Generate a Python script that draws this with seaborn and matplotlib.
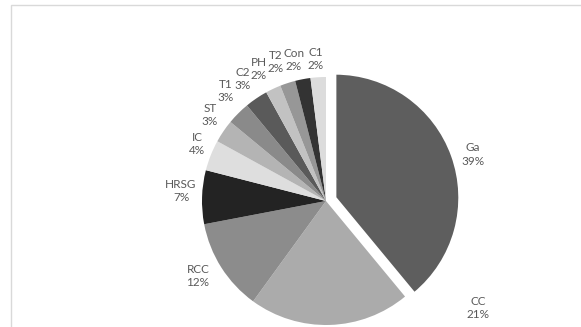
import matplotlib
matplotlib.use("Agg")
import matplotlib.pyplot as plt
import seaborn as sns
from matplotlib.patches import Rectangle

# Share of each component (percent)
components = ["Ga", "CC", "RCC", "HRSG", "IC", "ST", "T1", "C2", "PH", "T2", "Con", "C1"]
shares = [39, 21, 12, 7, 4, 3, 3, 3, 2, 2, 2, 2]

# Grey fill for each wedge
wedge_colors = ["#5e5e5e", "#ababab", "#8c8c8c", "#232323", "#dedede", "#b4b4b4",
                "#8a8a8a", "#5a5a5a", "#c2c2c2", "#979797", "#333333", "#dcdcdc"]

# Label anchor points in pie-radius units (pie centred at origin)
label_x = [1.185, 1.226, -1.032, -1.169, -1.040, -0.935, -0.806, -0.669, -0.540, -0.403, -0.258, -0.081]
label_y = [0.375, -0.863, -0.605, 0.081, 0.460, 0.694, 0.887, 0.984, 1.065, 1.121, 1.137, 1.145]

sns.set_theme(style="white")
plt.rcParams["font.family"] = ["Lato", "DejaVu Sans"]

W, H = 581, 327
fig = plt.figure(figsize=(W / 100, H / 100), dpi=100)
ax = fig.add_axes([0, 0, 1, 1])

explode = [0.08] + [0] * (len(shares) - 1)
wedges, _ = ax.pie(shares, colors=wedge_colors, startangle=90, counterclock=False,
                   explode=explode, radius=1.0,
                   wedgeprops=dict(linewidth=0))
wedges[0].set_edgecolor("white")
wedges[0].set_linewidth(1.5)

for name, val, x, y in zip(components, shares, label_x, label_y):
    ax.text(x, y, f"{name}\n{val}%", ha="center", va="center", fontsize=8.5,
            color="#595959", linespacing=1.25)

px = 124.0
cx, cy = 326.0, 201.0
ax.set_xlim(-cx / px, (W - cx) / px)
ax.set_ylim(-(H - cy) / px, cy / px)
ax.set_aspect("auto")
ax.axis("off")

# chart area border
fig.patches.append(Rectangle((10.5 / W, -0.1), 1.2, 1.1 - 5.5 / H,
                             transform=fig.transFigure, fill=False,
                             edgecolor="#d9d9d9", linewidth=1.0))

fig.savefig("out.png", dpi=100, facecolor="white")
